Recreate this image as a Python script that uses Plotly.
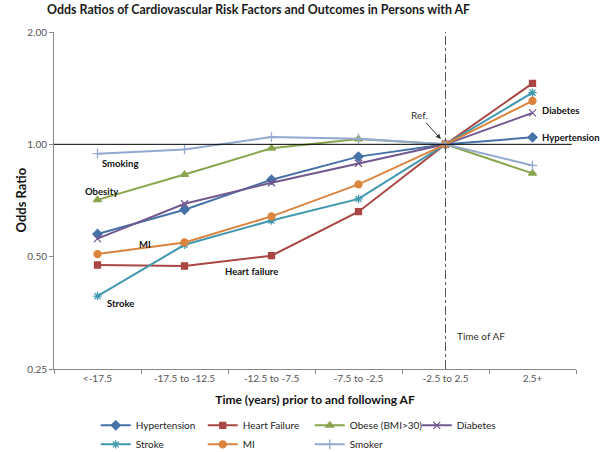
import math
import plotly.graph_objects as go

categories = ["<-17.5", "-17.5 to -12.5", "-12.5 to -7.5", "-7.5 to -2.5", "-2.5 to 2.5", "2.5+"]

hypertension = [0.575, 0.668, 0.804, 0.927, 1.00, 1.044]
heart_failure = [0.475, 0.472, 0.503, 0.660, 1.00, 1.457]
obese = [0.710, 0.830, 0.976, 1.033, 1.00, 0.836]
diabetes = [0.559, 0.693, 0.789, 0.890, 1.00, 1.214]
stroke = [0.392, 0.538, 0.625, 0.714, 1.00, 1.375]
mi = [0.508, 0.546, 0.641, 0.781, 1.00, 1.307]
smoker = [0.944, 0.969, 1.046, 1.035, 1.00, 0.878]

y_ticks = [0.25, 0.5, 1.0, 2.0]
y_tick_labels = ["0.25", "0.50", "1.00", "2.00"]

series = [
    ("Hypertension", hypertension, "#4572A7", "diamond", 7),
    ("Heart Failure", heart_failure, "#AA4643", "square", 6),
    ("Obese (BMI>30)", obese, "#89A54E", "triangle-up", 7),
    ("Diabetes", diabetes, "#71588F", "x-thin-open", 7),
    ("Stroke", stroke, "#4198AF", "asterisk-open", 7),
    ("MI", mi, "#DB843D", "circle", 7),
    ("Smoker", smoker, "#93A9CF", "cross-thin-open", 7),
]

FONT = "Lato, Liberation Sans, Arial"

fig = go.Figure()
for name, vals, color, sym, size in series:
    fig.add_trace(go.Scatter(
        x=categories, y=vals, name=name, mode="lines+markers",
        line=dict(color=color, width=2),
        marker=dict(symbol=sym, size=size, color=color, line=dict(color=color, width=1.3)),
    ))

fig.add_shape(type="line", xref="paper", yref="y", x0=0, x1=0.992, y0=1, y1=1,
              line=dict(color="#000000", width=1))
fig.add_shape(type="line", xref="x", yref="paper", x0=categories[4], x1=categories[4], y0=0, y1=1,
              line=dict(color="#555555", width=1, dash="dashdot"))

lab_font = dict(family=FONT, size=9.5, color="#111111")
# (text, category index, value, x offset px, y offset px downward)
labels = [
    ("Smoking", 0, 0.944, 2.5, 10),
    ("Obesity", 0, 0.710, -14.5, -8.6),
    ("MI", 1, 0.546, -47.5, 2),
    ("Heart failure", 2, 0.503, -48.5, 15.4),
    ("Stroke", 0, 0.392, 7.5, 7),
    ("Diabetes", 5, 1.214, 7, -2),
    ("Hypertension", 5, 1.044, 7, 0),
]
for text, xi, yv, dx, dy in labels:
    fig.add_annotation(x=categories[xi], y=math.log10(yv), yref="y", text="<b>%s</b>" % text,
                       showarrow=False, xanchor="left", yanchor="middle",
                       xshift=dx, yshift=-dy, font=lab_font)

fig.add_annotation(x=categories[4], y=0.0, ax=-26, ay=-29, text="Ref.", showarrow=True,
                   arrowhead=2, arrowsize=1, arrowwidth=1, arrowcolor="#333333",
                   standoff=7, font=dict(family=FONT, size=10, color="#333333"))
fig.add_annotation(x=categories[4], y=math.log10(0.306), text="Time of AF", showarrow=False,
                   xanchor="left", yanchor="middle", xshift=9.5,
                   font=dict(family=FONT, size=10, color="#333333"))

# y-axis title placed as annotation for exact position
fig.add_annotation(xref="paper", yref="paper", x=-0.0651, y=0.5, text="<b>Odds Ratio</b>",
                   textangle=-90, showarrow=False, xanchor="center", yanchor="middle",
                   font=dict(family=FONT, size=13, color="#111111"))

fig.update_layout(
    width=600, height=452,
    margin=dict(l=54, r=24, t=32, b=83, autoexpand=False),
    paper_bgcolor="white", plot_bgcolor="white",
    title=dict(text="<b>Odds Ratios of Cardiovascular Risk Factors and Outcomes in Persons with AF</b>",
               x=0.431, xanchor="center", y=0.978, yanchor="middle",
               font=dict(family=FONT, size=12.4, color="#1a1a1a")),
    xaxis=dict(type="category", range=[-0.5, 5.5], showline=True, linecolor="#888888", linewidth=1,
               ticks="outside", ticklen=4, tickcolor="#888888", tickson="boundaries",
               showgrid=False, automargin=False,
               tickfont=dict(family=FONT, size=10, color="#555555"),
               title=dict(text="<b>Time (years) prior to and following AF</b>", standoff=12,
                          font=dict(family=FONT, size=12, color="#111111"))),
    yaxis=dict(type="log", range=[-0.60206, 0.30103], tickvals=y_ticks, ticktext=y_tick_labels,
               showline=True, linecolor="#888888", linewidth=1, ticks="outside", ticklen=4,
               tickcolor="#888888", showgrid=False, zeroline=False, automargin=False,
               tickfont=dict(family=FONT, size=10, color="#555555")),
    legend=dict(orientation="h", x=0.080, xanchor="left", yref="container", y=0.091, yanchor="top",
                entrywidth=62, font=dict(family=FONT, size=10, color="#222222"),
                tracegroupgap=0, itemwidth=30),
    showlegend=True,
)

fig.write_html("out.html", config={"displayModeBar": False},
               post_script="document.body.style.margin='0px';")
